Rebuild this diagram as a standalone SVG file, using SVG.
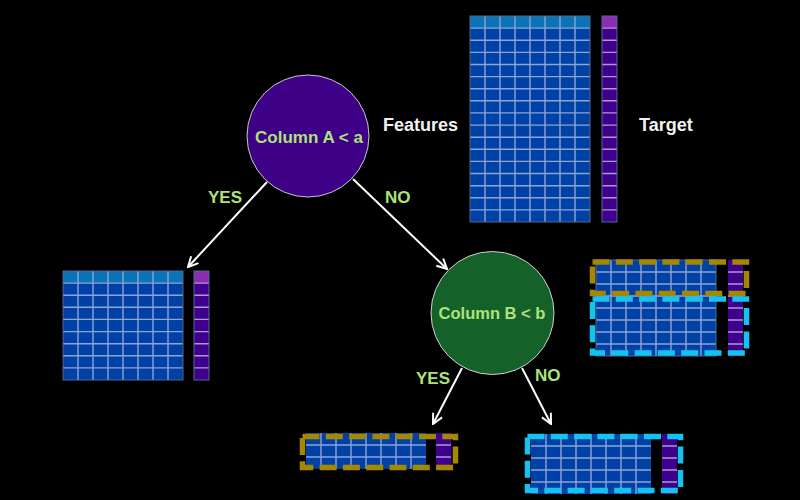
<svg xmlns="http://www.w3.org/2000/svg" width="800" height="500" viewBox="0 0 800 500">
<style>
.bg{fill:#000}
.cell{fill:#0041a6}
.hdr{fill:#0a74b6}
.tcell{fill:#40008f}
.thdr{fill:#8a2db2}
.gl{fill:none;stroke:#8ea3d6;stroke-width:1.4}
.tl{fill:none;stroke:#a99cc8;stroke-width:1.4}
.out{fill:none;stroke:#55658f;stroke-width:1}
.gold{fill:none;stroke:#a38800;stroke-width:5.5;stroke-dasharray:17 6.3}
.cyan{fill:none;stroke:#14c3f2;stroke-width:5.5;stroke-dasharray:17 6.3}
.lbl{font-family:"Liberation Sans",Arial,sans-serif;font-weight:bold;fill:#aee27a;font-size:17px}
.wl{font-family:"Liberation Sans",Arial,sans-serif;font-weight:bold;fill:#f2f2f2;font-size:18px}
.conn{stroke:#ffffff;stroke-width:2;fill:none}
</style>
<defs>
<marker id="ah" viewBox="0 0 12 12" refX="11" refY="6" markerWidth="12" markerHeight="12" markerUnits="userSpaceOnUse" orient="auto">
<path d="M1,1 L11,6 L1,11" fill="none" stroke="#fff" stroke-width="2"/>
</marker>
</defs>
<rect class="bg" x="0" y="0" width="800" height="500"/>

<g id="features-table">
<rect class="cell" x="470" y="16" width="120" height="206"/>
<rect class="hdr" x="470" y="16" width="120" height="12.1"/>
<path class="gl" d="M485 16V222M500 16V222M515 16V222M530 16V222M545 16V222M560 16V222M575 16V222M470 28.1H590M470 40.2H590M470 52.4H590M470 64.5H590M470 76.6H590M470 88.7H590M470 100.8H590M470 112.9H590M470 125.1H590M470 137.2H590M470 149.3H590M470 161.4H590M470 173.5H590M470 185.7H590M470 197.8H590M470 209.9H590"/>
<rect class="out" x="470" y="16" width="120" height="206"/>
</g>
<g id="target-column">
<rect class="tcell" x="602" y="16" width="15" height="206"/>
<rect class="thdr" x="602" y="16" width="15" height="12.1"/>
<path class="tl" d="M602 28.1H617M602 40.2H617M602 52.4H617M602 64.5H617M602 76.6H617M602 88.7H617M602 100.8H617M602 112.9H617M602 125.1H617M602 137.2H617M602 149.3H617M602 161.4H617M602 173.5H617M602 185.7H617M602 197.8H617M602 209.9H617"/>
<rect class="out" x="602" y="16" width="15" height="206"/>
</g>
<g id="labels-top">
<text class="wl" x="383" y="131">Features</text>
<text class="wl" x="639" y="131">Target</text>
</g>

<g id="node-a">
<circle cx="308" cy="136" r="61" fill="#3d0087" stroke="#c8c8c8" stroke-width="1"/>
<text class="lbl" x="309" y="143" text-anchor="middle">Column A &lt; a</text>
</g>

<g id="node-b">
<circle cx="492.5" cy="313" r="61.5" fill="#14622a" stroke="#d0d0d0" stroke-width="1"/>
<text class="lbl" x="492" y="319" text-anchor="middle" style="font-size:16.5px">Column B &lt; b</text>
</g>

<g id="left-leaf">
<rect class="cell" x="63" y="271" width="120" height="109"/>
<rect class="hdr" x="63" y="271" width="120" height="12.1"/>
<path class="gl" d="M78 271V380M93 271V380M108 271V380M123 271V380M138 271V380M153 271V380M168 271V380M63 283.1H183M63 295.2H183M63 307.3H183M63 319.4H183M63 331.6H183M63 343.7H183M63 355.8H183M63 367.9H183"/>
<rect class="out" x="63" y="271" width="120" height="109"/>
<rect class="tcell" x="194" y="271" width="15" height="109"/>
<rect class="thdr" x="194" y="271" width="15" height="12.1"/>
<path class="tl" d="M194 283.1H209M194 295.2H209M194 307.3H209M194 319.4H209M194 331.6H209M194 343.7H209M194 355.8H209M194 367.9H209"/>
<rect class="out" x="194" y="271" width="15" height="109"/>
</g>

<g id="split-preview">
<rect class="cell" x="596" y="260" width="120" height="96"/>
<path class="gl" d="M611 260V356M626 260V356M641 260V356M656 260V356M671 260V356M686 260V356M701 260V356M596 272H716M596 284H716M596 296H716M596 308H716M596 320H716M596 332H716M596 344H716"/>
<rect class="out" x="596" y="260" width="120" height="96"/>
<rect class="tcell" x="728" y="260" width="15" height="96"/>
<path class="tl" d="M728 272H743M728 284H743M728 296H743M728 308H743M728 320H743M728 332H743M728 344H743"/>
<rect class="gold" x="592.5" y="262" width="154" height="31.5"/>
<rect class="cyan" x="592.5" y="299" width="154" height="54"/>
</g>

<g id="yes-leaf">
<rect class="cell" x="306" y="433" width="120" height="36"/>
<path class="gl" d="M321 433V469M336 433V469M351 433V469M366 433V469M381 433V469M396 433V469M411 433V469M306 445H426M306 457H426"/>
<rect class="tcell" x="436" y="433" width="15" height="36"/>
<path class="tl" d="M436 445H451M436 457H451"/>
<rect class="gold" x="302.5" y="436.5" width="153" height="31"/>
</g>

<g id="no-leaf">
<rect class="cell" x="531" y="434" width="120" height="60"/>
<path class="gl" d="M546 434V494M561 434V494M576 434V494M591 434V494M606 434V494M621 434V494M636 434V494M531 446H651M531 458H651M531 470H651M531 482H651"/>
<rect class="tcell" x="662" y="434" width="15" height="60"/>
<path class="tl" d="M662 446H677M662 458H677M662 470H677M662 482H677"/>
<rect class="cyan" x="527.5" y="436.5" width="153" height="54"/>
</g>

<g id="connectors">
<line class="conn" x1="267" y1="182" x2="188" y2="267" marker-end="url(#ah)"/>
<line class="conn" x1="353" y1="179" x2="447" y2="269" marker-end="url(#ah)"/>
<line class="conn" x1="462" y1="368" x2="433" y2="424" marker-end="url(#ah)"/>
<line class="conn" x1="522" y1="368" x2="551" y2="424" marker-end="url(#ah)"/>
<text class="lbl" x="208" y="203">YES</text>
<text class="lbl" x="385" y="203">NO</text>
<text class="lbl" x="416" y="384">YES</text>
<text class="lbl" x="535" y="381">NO</text>
</g>
</svg>
